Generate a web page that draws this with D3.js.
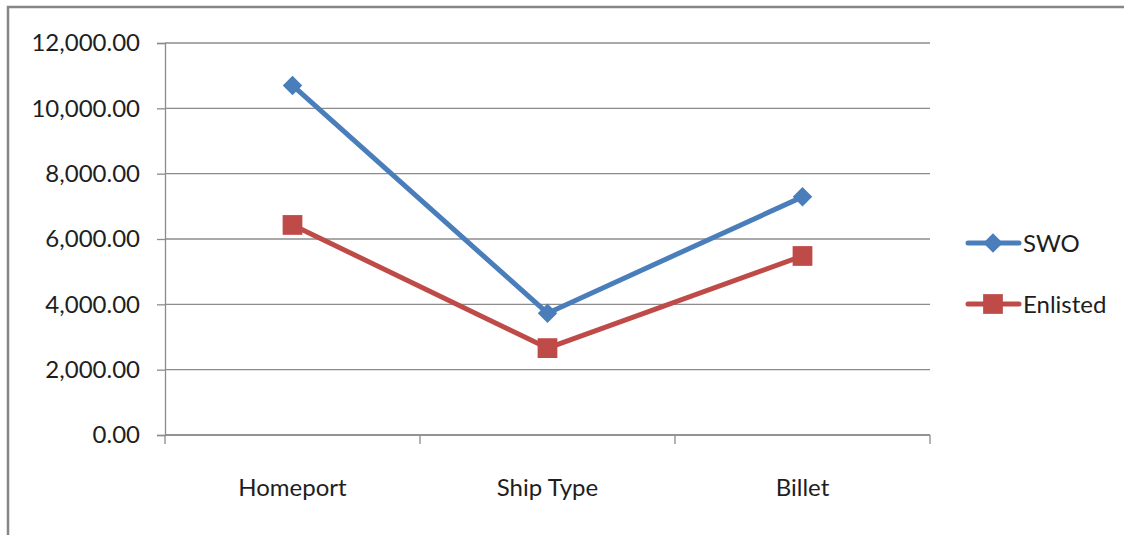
<!DOCTYPE html>
<html>
<head>
    <title>SWO vs Enlisted</title>
    <script src="https://cdnjs.cloudflare.com/ajax/libs/d3/7.8.5/d3.min.js"></script>
    <style>
    body { margin:0; background:#fff; }
    svg text { font-family: Lato, "Open Sans", sans-serif; fill:#1e1e1e; }
    </style>
</head>
<body>
<div id="chart"></div>
<script>
// data
var categories = ['Homeport', 'Ship Type', 'Billet'];
var swo = [10700, 3730, 7290];
var enlisted = [6430, 2660, 5480];
var yTicks = [0, 2000, 4000, 6000, 8000, 10000, 12000];
var seriesNames = ['SWO', 'Enlisted'];
var seriesColors = ['#4a7ebb', '#be4b48'];

var width = 1124, height = 535;
var plot = {left:165, right:930, top:43, bottom:435};

var svg = d3.select('#chart').append('svg')
    .attr('width', width)
    .attr('height', height);

// outer chart border (right and bottom fall off the picture)
svg.append('rect')
    .attr('x', 8).attr('y', 7)
    .attr('width', 1130).attr('height', 540)
    .attr('fill', 'none')
    .attr('stroke', '#868686')
    .attr('stroke-width', 2.5);

var x = d3.scaleBand().domain(categories).range([plot.left, plot.right]);
var y = d3.scaleLinear().domain([0, 12000]).range([plot.bottom, plot.top]);

// gridlines
svg.append('g').selectAll('line').data(yTicks).enter().append('line')
    .attr('x1', plot.left).attr('x2', plot.right)
    .attr('y1', function(d) { return y(d); })
    .attr('y2', function(d) { return y(d); })
    .attr('stroke', '#8c8c8c').attr('stroke-width', 1.3);

// y axis
var yAxis = svg.append('g')
    .attr('transform', 'translate(' + plot.left + ',0)')
    .call(d3.axisLeft(y).tickValues(yTicks).tickSize(8).tickPadding(17)
        .tickFormat(d3.format(',.2f')));
yAxis.selectAll('line').attr('stroke', '#8c8c8c').attr('stroke-width', 1.3);
yAxis.select('.domain').attr('stroke', '#8c8c8c').attr('stroke-width', 1.3);
yAxis.selectAll('text').style('font-size', '24px').attr('fill', '#1e1e1e');

// x axis, ticks sit between categories
var xAxis = svg.append('g')
    .attr('transform', 'translate(0,' + plot.bottom + ')');
xAxis.append('line')
    .attr('x1', plot.left).attr('x2', plot.right)
    .attr('stroke', '#8c8c8c').attr('stroke-width', 1.3);
var edges = categories.map(function(c) { return x(c); }).concat([x.range()[1]]);
xAxis.selectAll('line.tick').data(edges).enter().append('line')
    .attr('class', 'tick')
    .attr('x1', function(d) { return d; }).attr('x2', function(d) { return d; })
    .attr('y1', 0).attr('y2', 9)
    .attr('stroke', '#8c8c8c').attr('stroke-width', 1.3);
xAxis.selectAll('text').data(categories).enter().append('text')
    .attr('x', function(d) { return x(d) + x.bandwidth() / 2; })
    .attr('y', 61)
    .attr('text-anchor', 'middle')
    .style('font-size', '24px')
    .text(function(d) { return d; });

var line = d3.line()
    .x(function(d, i) { return x(categories[i]) + x.bandwidth() / 2; })
    .y(function(d) { return y(d); });

var allSeries = [swo, enlisted];
var square = d3.symbol().type(d3.symbolSquare);
// SWO marker: square turned 45 degrees
var markers = [
    { d: square.size(190)(), rot: 45 },
    { d: square.size(390)(), rot: 0 }
];

allSeries.forEach(function(vals, s) {
    svg.append('path')
        .datum(vals)
        .attr('d', line)
        .attr('fill', 'none')
        .attr('stroke', seriesColors[s])
        .attr('stroke-width', 5)
        .attr('stroke-linejoin', 'round');
    svg.append('g').selectAll('path').data(vals).enter().append('path')
        .attr('transform', function(d, i) {
            return 'translate(' + (x(categories[i]) + x.bandwidth() / 2) + ',' + y(d) + ') rotate(' + markers[s].rot + ')';
        })
        .attr('d', markers[s].d)
        .attr('fill', seriesColors[s]);
});

// legend
var legend = svg.append('g');
seriesNames.forEach(function(name, s) {
    var ly = 243 + s * 61;
    legend.append('line')
        .attr('x1', 968).attr('x2', 1019)
        .attr('y1', ly).attr('y2', ly)
        .attr('stroke', seriesColors[s]).attr('stroke-width', 5)
        .attr('stroke-linecap', 'round');
    legend.append('path')
        .attr('transform', 'translate(993,' + ly + ') rotate(' + markers[s].rot + ')')
        .attr('d', markers[s].d)
        .attr('fill', seriesColors[s]);
    legend.append('text')
        .attr('x', 1023).attr('y', ly + 9)
        .style('font-size', '24px')
        .text(name);
});
</script>
</body>
</html>
